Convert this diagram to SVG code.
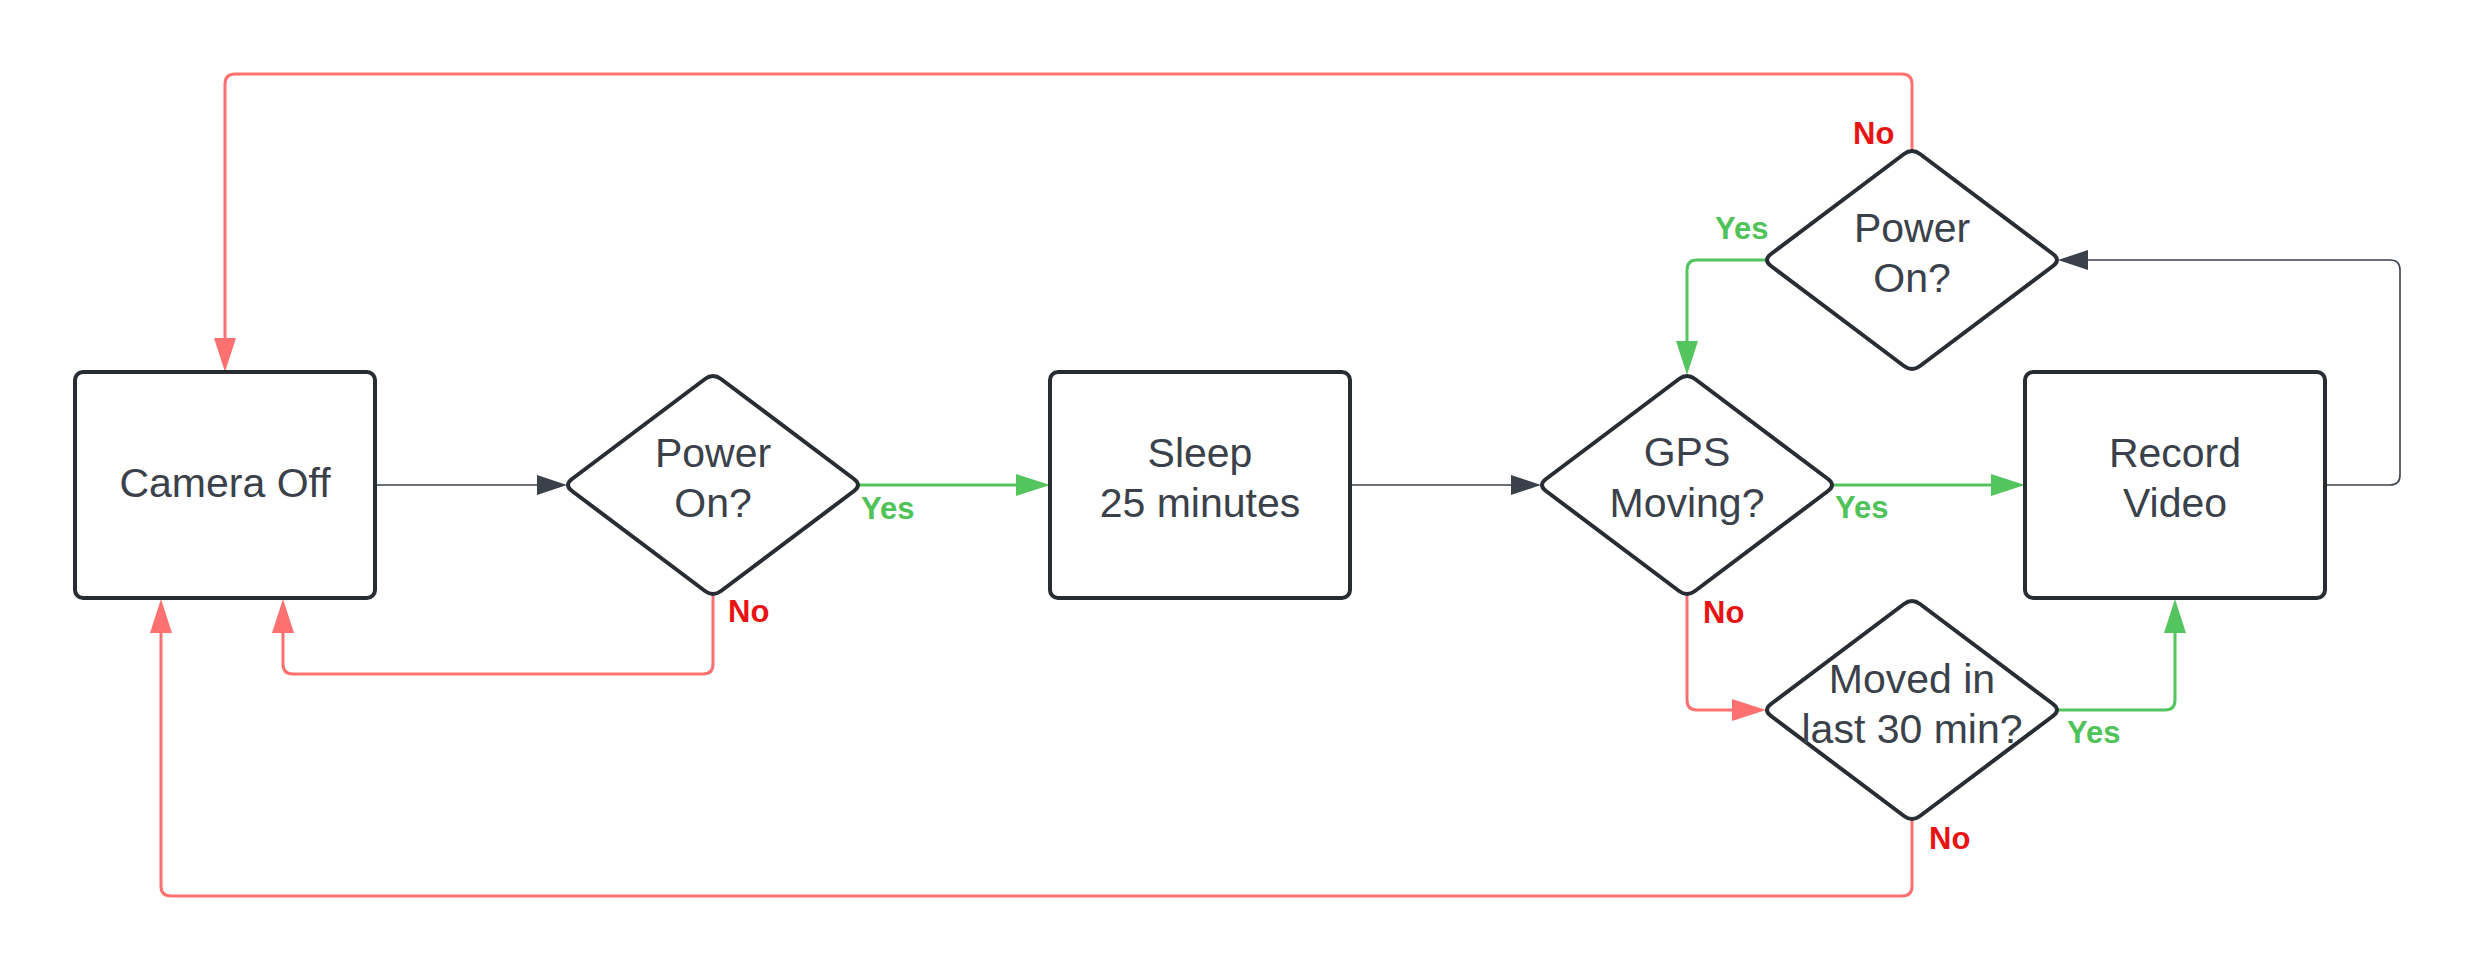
<svg xmlns="http://www.w3.org/2000/svg" width="2477" height="971" viewBox="0 0 2477 971">
<style>
.box{fill:#ffffff;stroke:#282c33;stroke-width:4}
.dia{fill:#ffffff;stroke:#282c33;stroke-width:4;stroke-linejoin:round}
.t{font-family:"Liberation Sans",Arial,sans-serif;font-size:41px;fill:#3a414a;text-anchor:middle}
.lbl{font-family:"Liberation Sans",Arial,sans-serif;font-size:31px;font-weight:bold}
.ly{fill:#4fc35a}
.ln{fill:#e81313}
.cd{fill:none;stroke:#3a414a;stroke-width:1.6}
.cr{fill:none;stroke:#ff7070;stroke-width:3}
.cg{fill:none;stroke:#54c45e;stroke-width:3}
</style>
<defs>
<marker id="ad" markerUnits="userSpaceOnUse" viewBox="0 0 30 20" markerWidth="30" markerHeight="20" refX="22" refY="10" orient="auto"><path d="M0,0 L30,10 L0,20 z" fill="#3a414a"/></marker>
<marker id="ar" markerUnits="userSpaceOnUse" viewBox="0 0 34 22" markerWidth="34" markerHeight="22" refX="26" refY="11" orient="auto"><path d="M0,0 L34,11 L0,22 z" fill="#ff7070"/></marker>
<marker id="ag" markerUnits="userSpaceOnUse" viewBox="0 0 34 22" markerWidth="34" markerHeight="22" refX="26" refY="11" orient="auto"><path d="M0,0 L34,11 L0,22 z" fill="#54c45e"/></marker>
</defs>
<rect width="2477" height="971" fill="#ffffff"/>
<g id="connectors">
<path class="cd" d="M375,485 H559" marker-end="url(#ad)"/>
<path class="cg" d="M859,485 H1042" marker-end="url(#ag)"/>
<path class="cr" d="M713,595 V664 Q713,674 703,674 H293 Q283,674 283,664 V607" marker-end="url(#ar)"/>
<path class="cd" d="M1350,485 H1533" marker-end="url(#ad)"/>
<path class="cg" d="M1833,485 H2017" marker-end="url(#ag)"/>
<path class="cr" d="M1687,595 V700 Q1687,710 1697,710 H1758" marker-end="url(#ar)"/>
<path class="cg" d="M2058,710 H2165 Q2175,710 2175,700 V607" marker-end="url(#ag)"/>
<path class="cr" d="M1912,820 V886 Q1912,896 1902,896 H171 Q161,896 161,886 V607" marker-end="url(#ar)"/>
<path class="cd" d="M2325,485 H2390 Q2400,485 2400,475 V270 Q2400,260 2390,260 H2066" marker-end="url(#ad)"/>
<path class="cg" d="M1766,260 H1697 Q1687,260 1687,270 V367" marker-end="url(#ag)"/>
<path class="cr" d="M1912,150 V84 Q1912,74 1902,74 H235 Q225,74 225,84 V364" marker-end="url(#ar)"/>
</g>
<g id="labels">
<text class="lbl ly" x="861" y="519">Yes</text>
<text class="lbl ln" x="728" y="622">No</text>
<text class="lbl ly" x="1835" y="518">Yes</text>
<text class="lbl ln" x="1703" y="623">No</text>
<text class="lbl ln" x="1853" y="144">No</text>
<text class="lbl ly" x="1715" y="239">Yes</text>
<text class="lbl ly" x="2067" y="743">Yes</text>
<text class="lbl ln" x="1929" y="849">No</text>
</g>
<g id="camera-off">
<rect class="box" x="75" y="372" width="300" height="226" rx="8"/>
<text class="t" x="225" y="497">Camera Off</text>
</g>
<g id="power-on-1">
<path class="dia" d="M705,379 Q713,373 721,379 L854,479 Q862,485 854,491 L721,591 Q713,597 705,591 L572,491 Q564,485 572,479 Z"/>
<text class="t" x="713" y="467">Power</text>
<text class="t" x="713" y="517">On?</text>
</g>
<g id="sleep">
<rect class="box" x="1050" y="372" width="300" height="226" rx="8"/>
<text class="t" x="1200" y="467">Sleep</text>
<text class="t" x="1200" y="517">25 minutes</text>
</g>
<g id="gps-moving">
<path class="dia" d="M1679,379 Q1687,373 1695,379 L1828,479 Q1836,485 1828,491 L1695,591 Q1687,597 1679,591 L1546,491 Q1538,485 1546,479 Z"/>
<text class="t" x="1687" y="466">GPS</text>
<text class="t" x="1687" y="517">Moving?</text>
</g>
<g id="record-video">
<rect class="box" x="2025" y="372" width="300" height="226" rx="8"/>
<text class="t" x="2175" y="467">Record</text>
<text class="t" x="2175" y="517">Video</text>
</g>
<g id="power-on-2">
<path class="dia" d="M1904,154 Q1912,148 1920,154 L2053,254 Q2061,260 2053,266 L1920,366 Q1912,372 1904,366 L1771,266 Q1763,260 1771,254 Z"/>
<text class="t" x="1912" y="242">Power</text>
<text class="t" x="1912" y="292">On?</text>
</g>
<g id="moved-in-last-30">
<path class="dia" d="M1904,604 Q1912,598 1920,604 L2053,704 Q2061,710 2053,716 L1920,816 Q1912,822 1904,816 L1771,716 Q1763,710 1771,704 Z"/>
<text class="t" x="1912" y="693">Moved in</text>
<text class="t" x="1912" y="743">last 30 min?</text>
</g>
</svg>
